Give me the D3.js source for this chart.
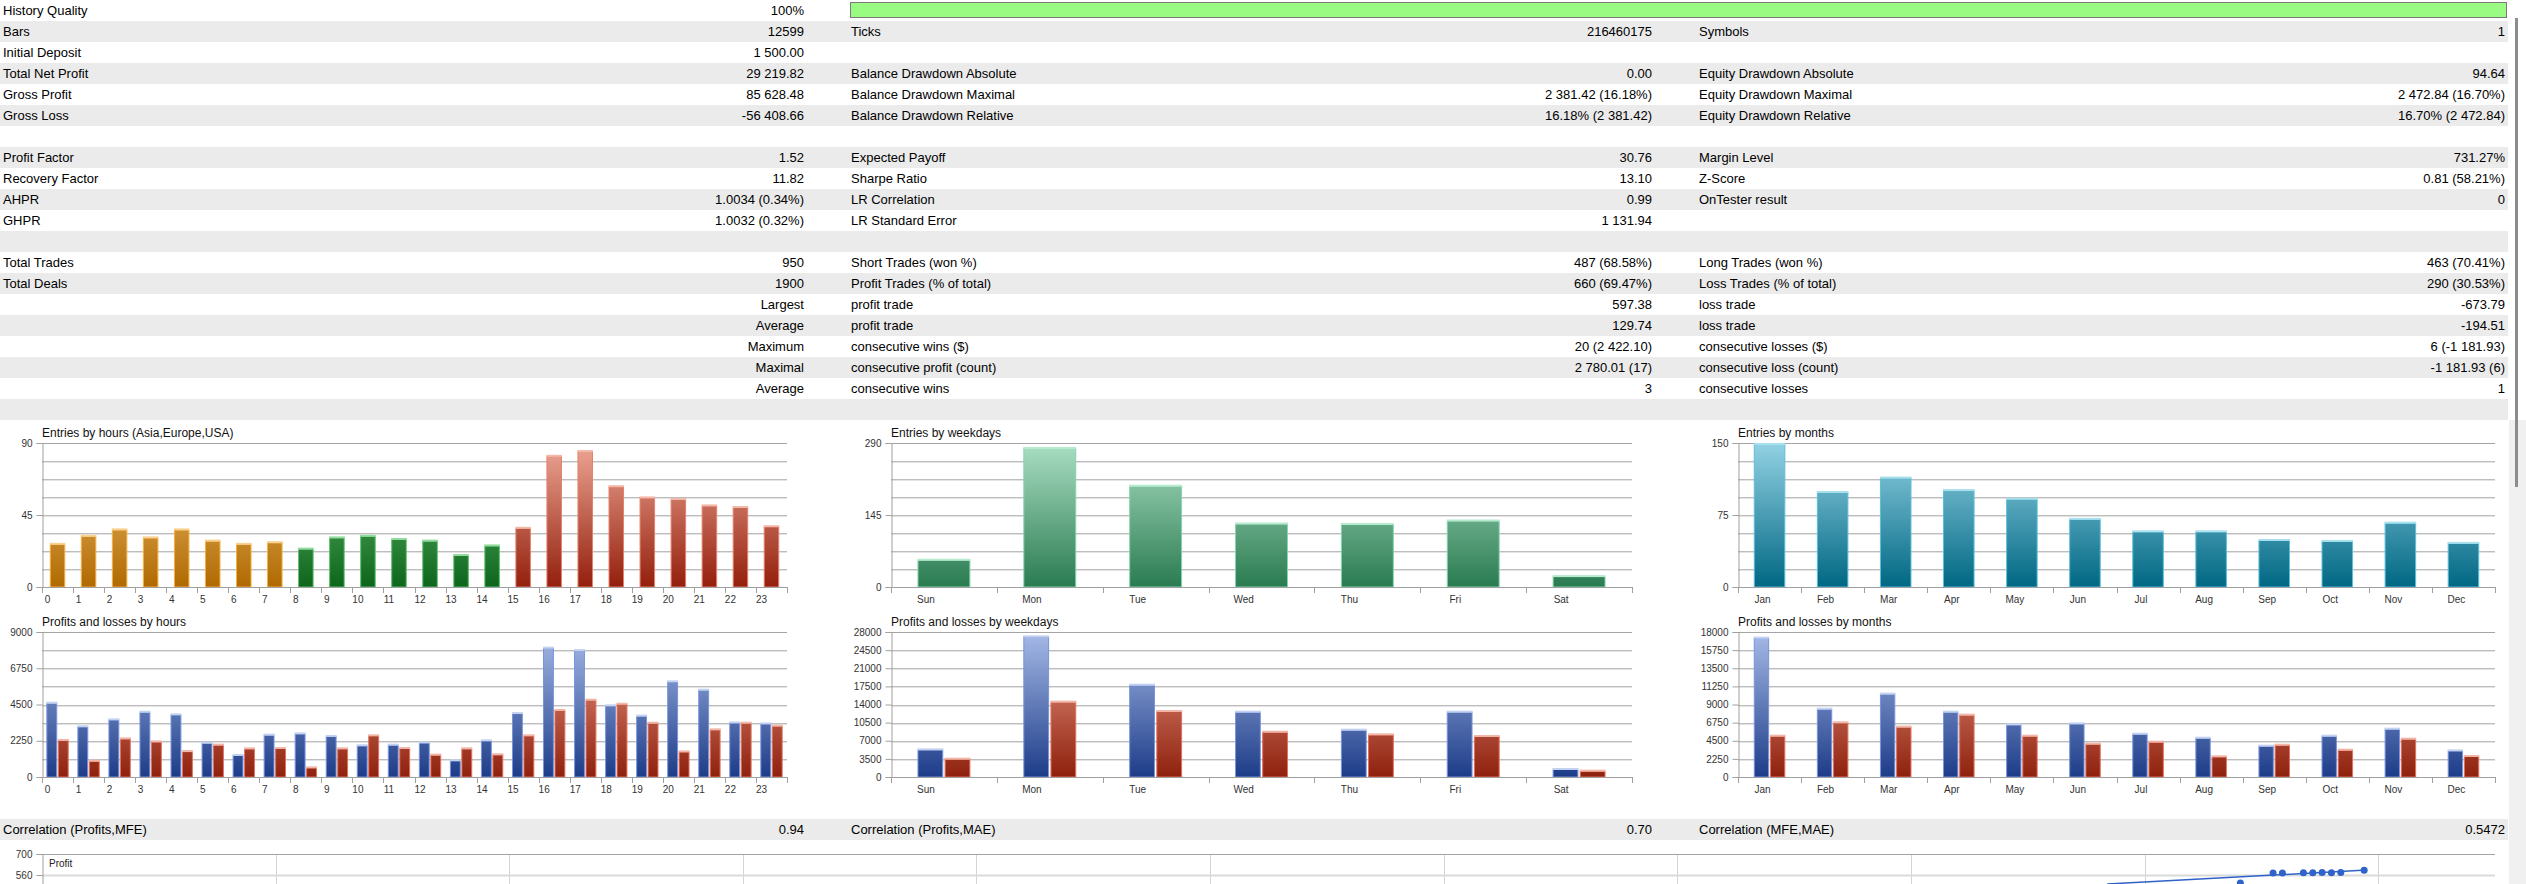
<!DOCTYPE html>
<html>
<head>
<meta charset="utf-8">
<script src="https://cdnjs.cloudflare.com/ajax/libs/d3/7.8.5/d3.min.js"></script>
<style>
  body { margin: 0; background: #fff; overflow: hidden; }
  svg { display: block; font-family: "Liberation Sans", Arial, sans-serif; }
</style>
</head>
<body>
<div id="report"></div>
<script>
// ---- report table (20 rows, 3 label/value columns) ----
var col1Labels = ["History Quality", "Bars", "Initial Deposit", "Total Net Profit", "Gross Profit", "Gross Loss", "",
    "Profit Factor", "Recovery Factor", "AHPR", "GHPR", "", "Total Trades", "Total Deals", "", "", "", "", "", ""];
var col1Values = ["100%", "12599", "1 500.00", "29 219.82", "85 628.48", "-56 408.66", "",
    "1.52", "11.82", "1.0034 (0.34%)", "1.0032 (0.32%)", "", "950", "1900",
    "Largest", "Average", "Maximum", "Maximal", "Average", ""];
var col2Labels = ["", "Ticks", "", "Balance Drawdown Absolute", "Balance Drawdown Maximal", "Balance Drawdown Relative", "",
    "Expected Payoff", "Sharpe Ratio", "LR Correlation", "LR Standard Error", "",
    "Short Trades (won %)", "Profit Trades (% of total)", "profit trade", "profit trade",
    "consecutive wins ($)", "consecutive profit (count)", "consecutive wins", ""];
var col2Values = ["", "216460175", "", "0.00", "2 381.42 (16.18%)", "16.18% (2 381.42)", "",
    "30.76", "13.10", "0.99", "1 131.94", "", "487 (68.58%)", "660 (69.47%)", "597.38", "129.74",
    "20 (2 422.10)", "2 780.01 (17)", "3", ""];
var col3Labels = ["", "Symbols", "", "Equity Drawdown Absolute", "Equity Drawdown Maximal", "Equity Drawdown Relative", "",
    "Margin Level", "Z-Score", "OnTester result", "", "",
    "Long Trades (won %)", "Loss Trades (% of total)", "loss trade", "loss trade",
    "consecutive losses ($)", "consecutive loss (count)", "consecutive losses", ""];
var col3Values = ["", "1", "", "94.64", "2 472.84 (16.70%)", "16.70% (2 472.84)", "",
    "731.27%", "0.81 (58.21%)", "0", "", "", "463 (70.41%)", "290 (30.53%)", "-673.79", "-194.51",
    "6 (-1 181.93)", "-1 181.93 (6)", "1", ""];

var correlationLabels = ["Correlation (Profits,MFE)", "Correlation (Profits,MAE)", "Correlation (MFE,MAE)"];
var correlationValues = ["0.94", "0.70", "0.5472"];

// ---- chart data ----
var hourLabels = ["0","1","2","3","4","5","6","7","8","9","10","11","12","13","14","15","16","17","18","19","20","21","22","23"];
var hourEntries = [27, 32, 36, 31, 36, 29, 27, 28, 24, 31, 32, 30, 29, 20, 26, 37, 82, 85, 63, 56, 55, 51, 50, 38];
var hourProfits = [4610, 3150, 3580, 4050, 3890, 2130, 1370, 2630, 2710, 2550, 1970, 2010, 2150, 1040, 2280, 3970, 8030, 7880, 4450, 3810, 5940, 5420, 3390, 3330];
var hourLosses = [2300, 1010, 2400, 2210, 1610, 2010, 1780, 1800, 600, 1780, 2590, 1800, 1390, 1780, 1410, 2590, 4160, 4800, 4550, 3370, 1590, 2960, 3370, 3190];

var weekdayLabels = ["Sun", "Mon", "Tue", "Wed", "Thu", "Fri", "Sat"];
var weekdayEntries = [55, 280, 204, 128, 127, 134, 22];
var weekdayProfits = [5340, 27160, 17830, 12620, 9140, 12620, 1550];
var weekdayLosses = [3540, 14550, 12750, 8750, 8240, 7920, 1220];

var monthLabels = ["Jan", "Feb", "Mar", "Apr", "May", "Jun", "Jul", "Aug", "Sep", "Oct", "Nov", "Dec"];
var monthEntries = [149, 99, 114, 101, 92, 71, 58, 58, 49, 48, 67, 46];
var monthProfits = [17300, 8480, 10350, 8110, 6540, 6660, 5380, 4880, 3890, 5130, 6000, 3310];
var monthLosses = [5130, 6790, 6250, 7740, 5130, 4140, 4390, 2570, 4010, 3390, 4760, 2610];

// tick labels shown on the y axes
var hourEntryTicks = [0, 45, 90];
var weekdayEntryTicks = [0, 145, 290];
var monthEntryTicks = [0, 75, 150];
var hourPLTicks = [0, 2250, 4500, 6750, 9000];
var weekdayPLTicks = [0, 3500, 7000, 10500, 14000, 17500, 21000, 24500, 28000];
var monthPLTicks = [0, 2250, 4500, 6750, 9000, 11250, 13500, 15750, 18000];

// MFE / profit scatter (only its top strip is visible)
var scatterMFE = [941, 955, 959, 968, 972, 976, 980, 984, 994];
var scatterProfit = [506, 573, 573, 575, 575, 576, 575, 576, 592];
var lrMFE = [884, 995];
var lrProfit = [500, 593];
var scatterTicks = [560, 700];

// ---- layout ----
var svgWidth = 2526, svgHeight = 884, rowH = 21;
var columns = [
    { left: 3, right: 804 },
    { left: 851, right: 1652 },
    { left: 1699, right: 2505 }
];

var svg = d3.select("#report").append("svg")
    .attr("width", svgWidth)
    .attr("height", svgHeight);
var defs = svg.append("defs");

// scrollbar track
svg.append("rect").attr("x", 2509).attr("y", 420).attr("width", 17).attr("height", 464).attr("fill", "#f0f0f0");

// table row bands
svg.selectAll(".band").data(d3.range(20)).enter().append("rect")
    .attr("x", 0).attr("y", d => d * rowH)
    .attr("width", 2508).attr("height", rowH)
    .attr("fill", d => d % 2 ? "#ebebeb" : "#fff");

// history quality bar
svg.append("rect")
    .attr("x", 850.5).attr("y", 2.5).attr("width", 1656).attr("height", 15)
    .attr("fill", "#99fb81").attr("stroke", "#7a7a7a");

function tableColumn(labels, values, col) {
    var g = svg.append("g").attr("font-size", 13).attr("fill", "#000");
    g.selectAll(".lab").data(labels).enter().append("text")
        .attr("x", col.left).attr("y", (d, i) => i * rowH + 15).text(d => d);
    g.selectAll(".val").data(values).enter().append("text")
        .attr("x", col.right).attr("y", (d, i) => i * rowH + 15)
        .attr("text-anchor", "end").text(d => d);
}
tableColumn(col1Labels, col1Values, columns[0]);
tableColumn(col2Labels, col2Values, columns[1]);
tableColumn(col3Labels, col3Values, columns[2]);

// correlation row
svg.append("rect").attr("x", 0).attr("y", 819).attr("width", 2508).attr("height", rowH).attr("fill", "#ebebeb");
var corrG = svg.append("g").attr("font-size", 13);
columns.forEach(function (col, i) {
    corrG.append("text").attr("x", col.left).attr("y", 834).text(correlationLabels[i]);
    corrG.append("text").attr("x", col.right).attr("y", 834).attr("text-anchor", "end").text(correlationValues[i]);
});

function gradient(id, top, bottom, c0, c1) {
    var lg = defs.append("linearGradient").attr("id", id)
        .attr("gradientUnits", "userSpaceOnUse")
        .attr("x1", 0).attr("y1", top).attr("x2", 0).attr("y2", bottom);
    lg.append("stop").attr("offset", "0%").attr("stop-color", c0);
    lg.append("stop").attr("offset", "100%").attr("stop-color", c1);
    return "url(#" + id + ")";
}

// generic MT5-style bar chart
function barChart(cfg) {
    var g = svg.append("g");
    var x = d3.scaleBand().domain(cfg.categories).range([cfg.left, cfg.right]);
    var y = d3.scaleLinear().domain([0, cfg.yMax]).range([cfg.bottom, cfg.top]);
    var bw = x.bandwidth();

    // grid
    var grid = d3.range(1, 9).map(k => cfg.yMax * k / 8);
    g.selectAll(".gl").data(grid).enter().append("line")
        .attr("x1", cfg.left).attr("x2", cfg.right)
        .attr("y1", d => Math.round(y(d)) + 0.5).attr("y2", d => Math.round(y(d)) + 0.5)
        .attr("stroke", (d, i) => i === 7 ? "#a4a4a4" : "#bdbdbd");
    g.selectAll(".gs").data(grid.slice(0, 7)).enter().append("line")
        .attr("x1", cfg.left).attr("x2", cfg.right)
        .attr("y1", d => Math.round(y(d)) + 1.5).attr("y2", d => Math.round(y(d)) + 1.5)
        .attr("stroke", "#e3e3e3");

    // y axis
    var yAxis = d3.axisLeft(y).tickValues(cfg.yTicks).tickSize(6).tickPadding(4).tickFormat(d3.format("d"));
    var ya = g.append("g").attr("transform", `translate(${cfg.left + 0.5},0)`).call(yAxis);
    ya.select(".domain").attr("stroke", "#a0a0a0");
    ya.selectAll(".tick line").attr("stroke", "#a0a0a0");
    ya.selectAll(".tick text").attr("font-size", 10).attr("fill", "#333")
        .attr("font-family", "'Liberation Sans', Arial, sans-serif");

    // bars
    var n = cfg.series.length;
    var groupW = bw * cfg.groupFrac;
    var inner = d3.scaleBand().domain(d3.range(n)).range([0, groupW]).paddingInner(n > 1 ? 0.05 : 0);
    cfg.series.forEach(function (vals, s) {
        var bars = g.selectAll(".bar" + s).data(vals).enter().append("g");
        var bx = (d, i) => x(cfg.categories[i]) + (bw - groupW) / 2 + inner(s);
        bars.append("rect")
            .attr("x", (d, i) => bx(d, i) + 0.5)
            .attr("y", d => y(d) + 0.5)
            .attr("width", inner.bandwidth() - 1)
            .attr("height", d => cfg.bottom - y(d) - 0.5)
            .attr("fill", (d, i) => cfg.fill(s, i))
            .attr("stroke", (d, i) => cfg.stroke(s, i));
        bars.append("rect")
            .attr("x", (d, i) => bx(d, i))
            .attr("y", d => y(d) - 1)
            .attr("width", inner.bandwidth())
            .attr("height", 2)
            .attr("fill", (d, i) => cfg.cap(s, i));
    });

    // x axis
    g.append("line").attr("x1", cfg.left).attr("x2", cfg.right)
        .attr("y1", cfg.bottom + 0.5).attr("y2", cfg.bottom + 0.5).attr("stroke", "#a0a0a0");
    var bounds = cfg.categories.map(c => x(c)).concat([cfg.right]);
    g.selectAll(".xt").data(bounds).enter().append("line")
        .attr("x1", d => Math.round(d) + 0.5).attr("x2", d => Math.round(d) + 0.5)
        .attr("y1", cfg.bottom).attr("y2", cfg.bottom + 6).attr("stroke", "#a0a0a0");
    g.selectAll(".xl").data(cfg.categories).enter().append("text")
        .attr("x", d => x(d) + cfg.labelDx).attr("y", cfg.bottom + 16)
        .attr("text-anchor", "middle").attr("font-size", 10).attr("fill", "#333")
        .text(d => d);

    // title
    g.append("text").attr("x", cfg.left).attr("y", cfg.titleY)
        .attr("font-size", 12).attr("fill", "#111").text(cfg.title);
}

var rowA = { top: 443, bottom: 587, titleY: 437 };
var rowB = { top: 632, bottom: 777, titleY: 626 };
var colA = { left: 42, right: 787 };
var colB = { left: 891, right: 1632 };
var colC = { left: 1738, right: 2495 };

// session colours for hours
var gOrange = gradient("gOrange", rowA.top, rowA.bottom, "#f3c77e", "#b06900");
var gGreen = gradient("gGreen", rowA.top, rowA.bottom, "#72c27e", "#0d661b");
var gRed = gradient("gRed", rowA.top, rowA.bottom, "#eea796", "#931f0c");
function session(i) { return i < 8 ? 0 : (i < 15 ? 1 : 2); }

barChart({
    left: colA.left, right: colA.right, top: rowA.top, bottom: rowA.bottom, titleY: rowA.titleY,
    title: "Entries by hours (Asia,Europe,USA)", categories: hourLabels, series: [hourEntries],
    yMax: 90, yTicks: hourEntryTicks, groupFrac: 0.5, labelDx: 5.5,
    fill: (s, i) => [gOrange, gGreen, gRed][session(i)],
    stroke: (s, i) => ["#f5b040", "#5cbf6c", "#e5806c"][session(i)],
    cap: (s, i) => ["#f8d090", "#8fdc9c", "#f4b8a8"][session(i)]
});

var gWeek = gradient("gWeek", rowA.top, rowA.bottom, "#abdfc4", "#2a7b51");
barChart({
    left: colB.left, right: colB.right, top: rowA.top, bottom: rowA.bottom, titleY: rowA.titleY,
    title: "Entries by weekdays", categories: weekdayLabels, series: [weekdayEntries],
    yMax: 290, yTicks: weekdayEntryTicks, groupFrac: 0.5, labelDx: 35,
    fill: () => gWeek, stroke: () => "#86d5ad", cap: () => "#b8ead0"
});

var gMonth = gradient("gMonth", rowA.top, rowA.bottom, "#93d2e4", "#006783");
barChart({
    left: colC.left, right: colC.right, top: rowA.top, bottom: rowA.bottom, titleY: rowA.titleY,
    title: "Entries by months", categories: monthLabels, series: [monthEntries],
    yMax: 150, yTicks: monthEntryTicks, groupFrac: 0.5, labelDx: 24.5,
    fill: () => gMonth, stroke: () => "#5bbfdb", cap: () => "#a8e0ee"
});

var gBlue = gradient("gBlue", rowB.top, rowB.bottom, "#a7bbe8", "#1d3c88");
var gLoss = gradient("gLoss", rowB.top, rowB.bottom, "#efa08e", "#8e210d");
var plFill = s => s === 0 ? gBlue : gLoss;
var plStroke = s => s === 0 ? "#7894de" : "#e2705c";
var plCap = s => s === 0 ? "#c4d2f2" : "#f2b6a8";

barChart({
    left: colA.left, right: colA.right, top: rowB.top, bottom: rowB.bottom, titleY: rowB.titleY,
    title: "Profits and losses by hours", categories: hourLabels, series: [hourProfits, hourLosses],
    yMax: 9000, yTicks: hourPLTicks, groupFrac: 0.72, labelDx: 5.5,
    fill: plFill, stroke: plStroke, cap: plCap
});
barChart({
    left: colB.left, right: colB.right, top: rowB.top, bottom: rowB.bottom, titleY: rowB.titleY,
    title: "Profits and losses by weekdays", categories: weekdayLabels, series: [weekdayProfits, weekdayLosses],
    yMax: 28000, yTicks: weekdayPLTicks, groupFrac: 0.5, labelDx: 35,
    fill: plFill, stroke: plStroke, cap: plCap
});
barChart({
    left: colC.left, right: colC.right, top: rowB.top, bottom: rowB.bottom, titleY: rowB.titleY,
    title: "Profits and losses by months", categories: monthLabels, series: [monthProfits, monthLosses],
    yMax: 18000, yTicks: monthPLTicks, groupFrac: 0.5, labelDx: 24.5,
    fill: plFill, stroke: plStroke, cap: plCap
});

// ---- MFE / profit scatter (cut off at the page bottom) ----
var sx = d3.scaleLinear().domain([0, 1050]).range([42, 2495]);
var sy = d3.scaleLinear().domain([0, 700]).range([959, 854]);
var sc = svg.append("g");
sc.selectAll(".vg").data(d3.range(100, 1050, 100)).enter().append("line")
    .attr("x1", d => Math.round(sx(d)) + 0.5).attr("x2", d => Math.round(sx(d)) + 0.5)
    .attr("y1", 854).attr("y2", 884).attr("stroke", "#d4d4d4");
sc.append("line").attr("x1", 42).attr("x2", 2495).attr("y1", sy(560) + 0.5).attr("y2", sy(560) + 0.5)
    .attr("stroke", "#dadada").attr("stroke-width", 2);
sc.append("line").attr("x1", 42).attr("x2", 2495).attr("y1", sy(700) + 0.5).attr("y2", sy(700) + 0.5)
    .attr("stroke", "#a4a4a4");
var sAxis = d3.axisLeft(sy).tickValues(scatterTicks).tickSize(6).tickPadding(4).tickFormat(d3.format("d"));
var sa = sc.append("g").attr("transform", "translate(42.5,0)").call(sAxis);
sa.select(".domain").attr("stroke", "#a0a0a0");
sa.selectAll(".tick line").attr("stroke", "#a0a0a0");
sa.selectAll(".tick text").attr("font-size", 10).attr("fill", "#333");
sc.append("text").attr("x", 49).attr("y", 867).attr("font-size", 10).attr("fill", "#222").text("Profit");

sc.append("line")
    .attr("x1", sx(lrMFE[0])).attr("y1", sy(lrProfit[0]))
    .attr("x2", sx(lrMFE[1])).attr("y2", sy(lrProfit[1]))
    .attr("stroke", "#2f62c8").attr("stroke-width", 1.5);
sc.selectAll(".pt").data(scatterMFE).enter().append("circle")
    .attr("cx", d => sx(d)).attr("cy", (d, i) => sy(scatterProfit[i]))
    .attr("r", 3.5).attr("fill", "#3063c9");

// scrollbar thumb
svg.append("rect").attr("x", 2515).attr("y", 18).attr("width", 3).attr("height", 469).attr("fill", "#8c8c8c");
</script>
</body>
</html>
